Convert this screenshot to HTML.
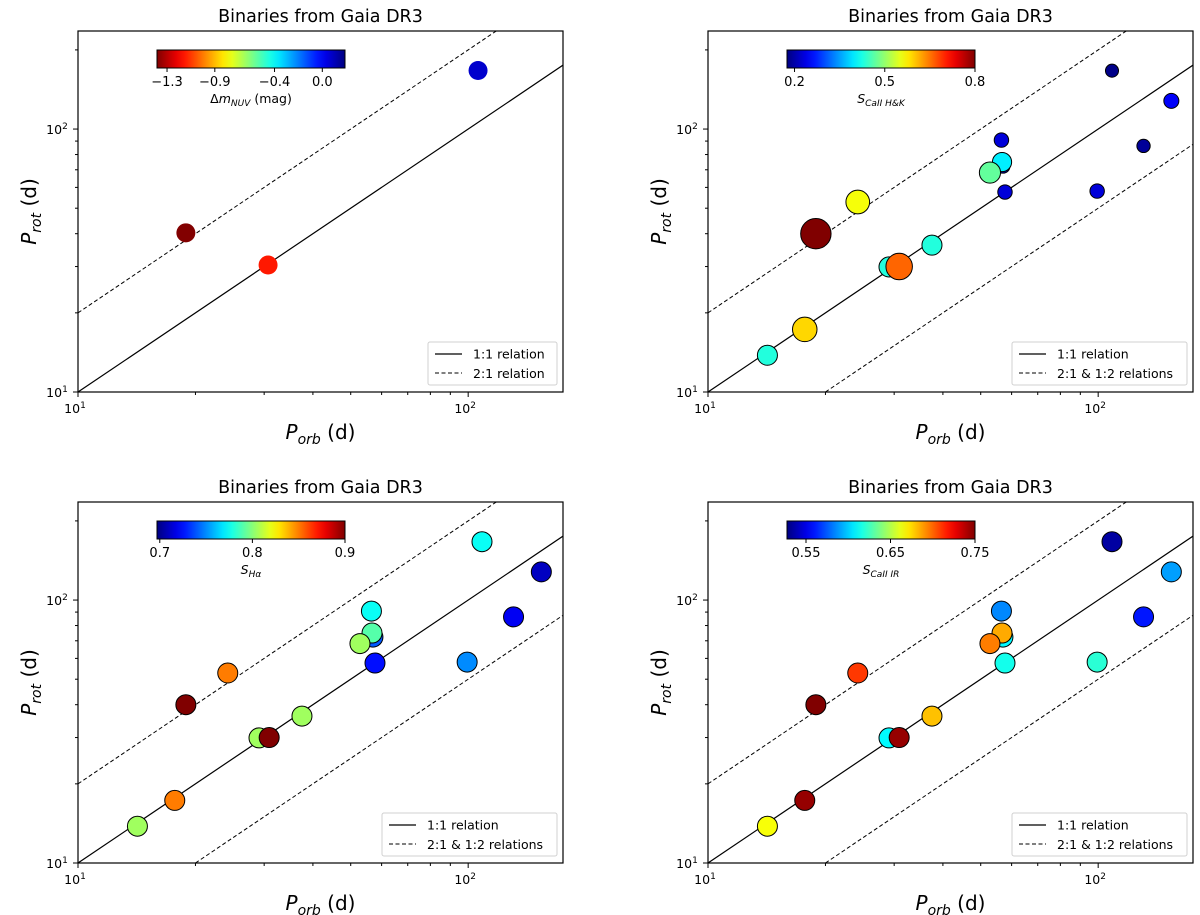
<!DOCTYPE html>
<html><head><meta charset="utf-8"><style>
html,body{margin:0;padding:0;background:#fff;}
svg{display:block;font-family:"DejaVu Sans","Liberation Sans",sans-serif;}
</style></head><body>
<svg id="fig" width="1200" height="915" viewBox="0 0 1200 915" xmlns="http://www.w3.org/2000/svg"></svg>
<script>
// ---- data ----
const nuvPorb = [18.9, 30.7, 106];
const nuvProt = [40.3, 30.4, 167];
const nuvDm = [-1.38, -1.15, 0.07];
const porb = [108.5,154,56.5,130.7,57.0,56.7,52.8,57.7,99.4,24.2,18.9,37.5,29.1,30.9,17.7,14.2];
const prot = [166.7,128,90.8,86.3,72.3,74.9,68.3,57.6,58.1,52.8,40.0,36.2,29.9,30.0,17.3,13.8];
const sHK = [0.18,0.25,0.23,0.19,0.22,0.40,0.47,0.23,0.23,0.56,0.80,0.43,0.43,0.66,0.59,0.43];
const sHa = [0.775,0.71,0.775,0.72,0.74,0.79,0.805,0.725,0.75,0.85,0.9,0.805,0.805,0.9,0.85,0.805];
const sIR = [0.535,0.59,0.585,0.56,0.61,0.685,0.695,0.615,0.62,0.71,0.75,0.68,0.61,0.745,0.745,0.665];
const cbTicksNUV = [-1.3,-0.9,-0.4,0.0];
const cbTickLabelsNUV = ["\u22121.3","\u22120.9","\u22120.4","0.0"];
const cbTicksHK = [0.2,0.5,0.8];
const cbTickLabelsHK = ["0.2","0.5","0.8"];
const cbTicksHa = [0.7,0.8,0.9];
const cbTickLabelsHa = ["0.7","0.8","0.9"];
const cbTicksIR = [0.55,0.65,0.75];
const cbTickLabelsIR = ["0.55","0.65","0.75"];
const XMIN = 10, XMAX = 175, YMIN = 10, YMAX = 236;

const NS = "http://www.w3.org/2000/svg";
const svg = document.getElementById('fig');
function el(tag, attrs, parent){
  const e = document.createElementNS(NS, tag);
  for (const k in attrs) e.setAttribute(k, attrs[k]);
  (parent||svg).appendChild(e);
  return e;
}
function jet(t){
  t = Math.max(0, Math.min(1, t));
  const c = v => Math.round(255*Math.max(0, Math.min(1, v)));
  return `rgb(${c(1.5-Math.abs(4*t-3))},${c(1.5-Math.abs(4*t-2))},${c(1.5-Math.abs(4*t-1))})`;
}

function panel(idx, L, T, R, B, opts){
  const g = el('g', {});
  
  
  const lx = Math.log10(XMAX) - 1, ly = Math.log10(YMAX) - 1;
  const sx = v => L + (Math.log10(v) - 1) * (R - L) / lx;
  const sy = v => B - (Math.log10(v) - 1) * (B - T) / ly;
  const cmap = t => jet(opts.reverse ? 1 - t : t);
  const cid = 'clip' + idx;
  const cp = el('clipPath', {id: cid}, g);
  el('rect', {x: L, y: T, width: R - L, height: B - T}, cp);

  const title = el('text', {x: (L+R)/2, y: T-9, 'text-anchor': 'middle', 'font-size': 17.5}, g);
  title.textContent = 'Binaries from Gaia DR3';
  
  

  const lg = el('g', {'clip-path': `url(#${cid})`}, g);
  const l11 = el('line', {x1: sx(10), y1: sy(10), x2: sx(300), y2: sy(300), stroke: '#000', 'stroke-width': 1.2}, lg);
  
  
  const l21 = el('line', {x1: sx(10), y1: sy(20), x2: sx(300), y2: sy(600), stroke: '#000', 'stroke-width': 1, 'stroke-dasharray': '4,2.5'}, lg);
  
  
  if (opts.half){
    const l12 = el('line', {x1: sx(20), y1: sy(10), x2: sx(600), y2: sy(300), stroke: '#000', 'stroke-width': 1, 'stroke-dasharray': '4,2.5'}, lg);
    
    
  }

  const pg = el('g', {'clip-path': `url(#${cid})`}, g);
  for (let i = 0; i < opts.xs.length; i++){
    const v = opts.cs[i];
    const t = (v - opts.vmin) / (opts.vmax - opts.vmin);
    const r = opts.radius(v);
    const c = el('circle', {cx: sx(opts.xs[i]), cy: sy(opts.ys[i]), r: r, fill: cmap(t)}, pg);
    if (opts.edge){ c.setAttribute('stroke', '#000'); c.setAttribute('stroke-width', 1); }
    
    
  }

  const fr = el('rect', {x: L, y: T, width: R - L, height: B - T, fill: 'none', stroke: '#000', 'stroke-width': 1.2}, g);
  
  

  const tg = el('g', {stroke: '#000', 'stroke-width': 1}, g);
  for (let d = 10; d <= 100; d *= 10){
    for (let m = 1; m < 10; m++){
      const v = d*m;
      const maj = m === 1;
      const len = maj ? 5 : 3;
      if (v >= XMIN && v <= XMAX) el('line', {x1: sx(v), y1: B, x2: sx(v), y2: B+len}, tg);
      if (v >= YMIN && v <= YMAX) el('line', {x1: L, y1: sy(v), x2: L-len, y2: sy(v)}, tg);
    }
  }
  [[10,'1'],[100,'2']].forEach(([v,e])=>{
    const tx = el('text', {x: sx(v)-3, y: B+21, 'text-anchor': 'middle', 'font-size': 12.5}, g);
    tx.innerHTML = `10<tspan dy="-5" font-size="9">${e}</tspan>`;
    
    
    const ty = el('text', {x: L-21, y: sy(v)+5, 'text-anchor': 'middle', 'font-size': 12.5}, g);
    ty.innerHTML = `10<tspan dy="-5" font-size="9">${e}</tspan>`;
    
    
  });

  const xl = el('text', {x: (L+R)/2, y: B+47, 'text-anchor': 'middle', 'font-size': 20}, g);
  xl.innerHTML = '<tspan font-style="italic">P</tspan><tspan font-style="italic" font-size="14" dy="5">orb</tspan><tspan dy="-5"> (d)</tspan>';
  
  
  const yl = el('text', {x: 0, y: 0, 'text-anchor': 'middle', 'font-size': 20, transform: `translate(${L-42},${(T+B)/2}) rotate(-90)`}, g);
  yl.innerHTML = '<tspan font-style="italic">P</tspan><tspan font-style="italic" font-size="14" dy="5">rot</tspan><tspan dy="-5"> (d)</tspan>';
  
  

  const lw = opts.half ? 175 : 129;
  const lgx = R - 6 - lw, lgy = B - 50;
  const leg = el('g', {}, g);
  
  
  el('rect', {x: lgx, y: lgy, width: lw, height: 43, rx: 2, fill: '#fff', 'fill-opacity': 0.8, stroke: '#d0d0d0', 'stroke-width': 1}, leg);
  el('line', {x1: lgx+7, y1: lgy+12, x2: lgx+34, y2: lgy+12, stroke: '#000', 'stroke-width': 1.2}, leg);
  el('line', {x1: lgx+7, y1: lgy+31, x2: lgx+34, y2: lgy+31, stroke: '#000', 'stroke-width': 1, 'stroke-dasharray': '4,2.5'}, leg);
  const e1 = el('text', {x: lgx+45, y: lgy+16.5, 'font-size': 12.5}, leg);
  e1.textContent = '1:1 relation';
  
  
  const e2 = el('text', {x: lgx+45, y: lgy+36, 'font-size': 12.5}, leg);
  e2.textContent = opts.half ? '2:1 & 1:2 relations' : '2:1 relation';
  
  

  const cbL = L + 79, cbR = L + 267, cbT = T + 19, cbB = T + 37;
  const cb = el('g', {}, g);
  
  
  const gid = 'grad' + idx;
  const defs = el('defs', {}, cb);
  const lgr = el('linearGradient', {id: gid, x1: 0, x2: 1, y1: 0, y2: 0}, defs);
  for (let k = 0; k <= 20; k++){
    const t = k/20;
    el('stop', {offset: t, 'stop-color': cmap(t)}, lgr);
  }
  el('rect', {x: cbL, y: cbT, width: cbR - cbL, height: cbB - cbT, fill: `url(#${gid})`, stroke: '#000', 'stroke-width': 1}, cb);
  const cx = v => cbL + (v - opts.vmin) / (opts.vmax - opts.vmin) * (cbR - cbL);
  opts.ticks.forEach((v, i) => {
    el('line', {x1: cx(v), y1: cbB, x2: cx(v), y2: cbB+4, stroke: '#000', 'stroke-width': 1}, cb);
    const tl = el('text', {x: cx(v), y: cbB+18, 'text-anchor': 'middle', 'font-size': 13}, cb);
    tl.textContent = opts.tickLabels[i];
    
    
  });
  const ct = el('text', {x: (cbL+cbR)/2, y: cbB+35, 'text-anchor': 'middle', 'font-size': 12.5}, cb);
  ct.innerHTML = opts.cbLabel;
  
  
}

panel(0, 78, 31, 563, 392, {
  name: 'panel-nuv', xs: nuvPorb, ys: nuvProt, cs: nuvDm,
  vmin: -1.384, vmax: 0.19, reverse: true, edge: false, half: false,
  radius: () => 9.5, ticks: cbTicksNUV, tickLabels: cbTickLabelsNUV,
  cbLabel: '\u0394<tspan font-style="italic">m</tspan><tspan font-style="italic" font-size="9" dy="3">NUV</tspan><tspan dy="-3"> (mag)</tspan>'
});
panel(1, 708, 31, 1193, 392, {
  name: 'panel-caii-hk', xs: porb, ys: prot, cs: sHK,
  vmin: 0.175, vmax: 0.8, reverse: false, edge: true, half: true,
  radius: v => 4 + 14*v, ticks: cbTicksHK, tickLabels: cbTickLabelsHK,
  cbLabel: '<tspan font-style="italic">S</tspan><tspan font-style="italic" font-size="9" dy="3">CaII H&amp;K</tspan>'
});
panel(2, 78, 502, 563, 863, {
  name: 'panel-halpha', xs: porb, ys: prot, cs: sHa,
  vmin: 0.697, vmax: 0.9, reverse: false, edge: true, half: true,
  radius: () => 10, ticks: cbTicksHa, tickLabels: cbTickLabelsHa,
  cbLabel: '<tspan font-style="italic">S</tspan><tspan font-style="italic" font-size="9" dy="3">H\u03b1</tspan>'
});
panel(3, 708, 502, 1193, 863, {
  name: 'panel-caii-ir', xs: porb, ys: prot, cs: sIR,
  vmin: 0.5275, vmax: 0.75, reverse: false, edge: true, half: true,
  radius: () => 10, ticks: cbTicksIR, tickLabels: cbTickLabelsIR,
  cbLabel: '<tspan font-style="italic">S</tspan><tspan font-style="italic" font-size="9" dy="3">CaII IR</tspan>'
});
</script>
</body></html>
